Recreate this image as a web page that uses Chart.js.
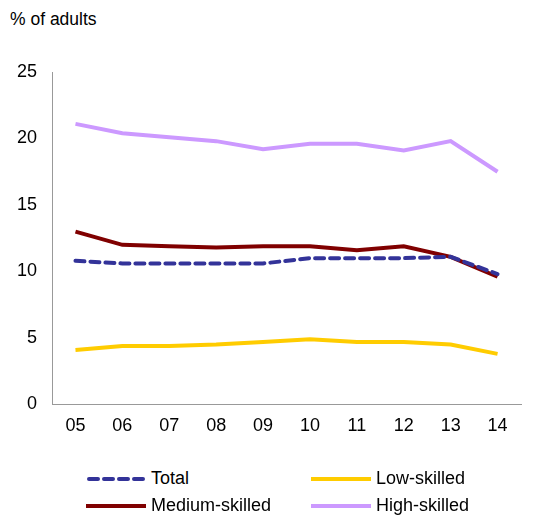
<!DOCTYPE html>
<html>
<head>
<meta charset="utf-8">
<script src="https://cdn.jsdelivr.net/npm/chart.js@4"></script>
<style>
  body { margin: 0; background: #fff; font-family: "Liberation Sans", Arial, sans-serif; }
  #wrap { position: relative; width: 535px; height: 515px; }
  #unit { position: absolute; left: 10px; top: 9px; font-size: 17.5px; color: #000; }
  #chart-box { position: absolute; left: 0; top: 0; width: 535px; height: 460px; }
  #legend { position: absolute; left: 86px; top: 468px; width: 440px; display: grid;
            grid-template-columns: 225px 215px; row-gap: 6px; font-size: 18px; color: #000; }
  .item { display: flex; align-items: center; height: 21px; }
  .item canvas { margin-right: 5px; }
</style>
</head>
<body>
<div id="wrap">
  <div id="unit">% of adults</div>
  <div id="chart-box"><canvas id="line-chart"></canvas></div>
  <div id="legend"></div>
</div>
<script>
// données
const years = ['05', '06', '07', '08', '09', '10', '11', '12', '13', '14'];
const total = [10.8, 10.6, 10.6, 10.6, 10.6, 11.0, 11.0, 11.0, 11.1, 9.8];
const lowSkilled = [4.1, 4.4, 4.4, 4.5, 4.7, 4.9, 4.7, 4.7, 4.5, 3.8];
const mediumSkilled = [13.0, 12.0, 11.9, 11.8, 11.9, 11.9, 11.6, 11.9, 11.1, 9.6];
const highSkilled = [21.1, 20.4, 20.1, 19.8, 19.2, 19.6, 19.6, 19.1, 19.8, 17.5];
const yTicks = [0, 5, 10, 15, 20, 25];

const datasets = [
  { label: 'Total', data: total, borderColor: '#333399', borderDash: [9, 6], borderCapStyle: 'round' },
  { label: 'Low-skilled', data: lowSkilled, borderColor: '#FFCC00' },
  { label: 'Medium-skilled', data: mediumSkilled, borderColor: '#800000' },
  { label: 'High-skilled', data: highSkilled, borderColor: '#CC99FF' },
].map(d => ({ ...d, borderWidth: 4, pointRadius: 0, tension: 0, fill: false }));

// ordre de dessin : Total au-dessus des autres
datasets[0].order = -1;

const ctx = document.getElementById('line-chart').getContext('2d');
const lineChart = new Chart(ctx, {
  type: 'line',
  data: { labels: years, datasets: datasets },
  options: {
    responsive: true,
    maintainAspectRatio: false,
    animation: false,
    layout: { padding: { left: 2, right: 14, top: 72, bottom: 12 } },
    scales: {
      x: {
        offset: true,
        grid: { display: false, drawTicks: false },
        border: { color: '#999', width: 1 },
        ticks: { color: '#000', font: { family: 'Liberation Sans', size: 18 }, padding: 11 },
      },
      y: {
        min: 0,
        max: 25,
        afterBuildTicks: axis => { axis.ticks = yTicks.map(v => ({ value: v })); },
        grid: { display: false, drawTicks: false },
        border: { color: '#999', width: 1 },
        ticks: { color: '#000', font: { family: 'Liberation Sans', size: 18 }, padding: 15 },
      },
    },
    plugins: { legend: { display: false }, tooltip: { enabled: false } },
  },
});

// légende en deux colonnes
const legend = document.getElementById('legend');
datasets.forEach(d => {
  const item = document.createElement('div');
  item.className = 'item';
  const c = document.createElement('canvas');
  c.width = 60; c.height = 8;
  const g = c.getContext('2d');
  g.strokeStyle = d.borderColor;
  g.lineWidth = 4;
  g.lineCap = d.borderDash ? 'round' : 'butt';
  if (d.borderDash) g.setLineDash(d.borderDash);
  g.beginPath();
  g.moveTo(d.borderDash ? 3 : 0, 4);
  g.lineTo(60, 4);
  g.stroke();
  item.appendChild(c);
  const span = document.createElement('span');
  span.textContent = d.label;
  item.appendChild(span);
  legend.appendChild(item);
});
</script>
</body>
</html>
